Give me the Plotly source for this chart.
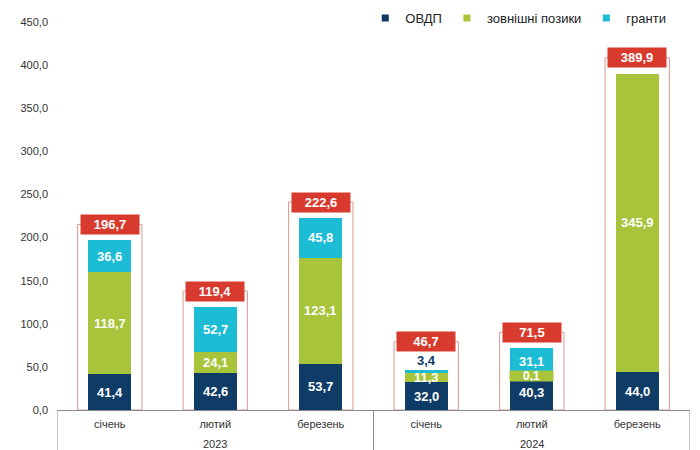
import plotly.graph_objects as go

# ---- data ----
months = ["січень", "лютий", "березень", "січень", "лютий", "березень"]
years = ["2023", "2024"]
ovdp = [41.4, 42.6, 53.7, 32.0, 40.3, 44.0]
loans = [118.7, 24.1, 123.1, 11.3, 0.1, 345.9]
grants = [36.6, 52.7, 45.8, 3.4, 31.1, 0.0]
totals = [196.7, 119.4, 222.6, 46.7, 71.5, 389.9]
y_ticks = [0, 50, 100, 150, 200, 250, 300, 350, 400, 450]
series_names = ["ОВДП", "зовнішні позики", "гранти"]

C_NAVY = "#0f3b67"
C_GREEN = "#a7c43a"
C_CYAN = "#1bbcd4"
C_RED = "#d83b2d"
C_OUT = "#dc9a92"
C_AXIS = "#8a8a8a"
FONT = "Liberation Sans, Arial, sans-serif"


def fmt(v):
    return f"{v:.1f}".replace(".", ",")


x = list(range(len(months)))
BAR_W = 0.41
PX_PER_UNIT = 388 / 450

fig = go.Figure()
for name, vals, col in zip(series_names, [ovdp, loans, grants], [C_NAVY, C_GREEN, C_CYAN]):
    fig.add_trace(go.Bar(x=x, y=vals, name=name, marker=dict(color=col, line=dict(width=0)),
                         width=BAR_W, showlegend=False, hoverinfo="skip"))
    # legend proxy with small square marker
    fig.add_trace(go.Scatter(x=[None], y=[None], mode="markers", name=name,
                             marker=dict(symbol="square", size=7, color=col)))

annotations = []
shapes = []
for i in x:
    base = 0.0
    raise_total = 0
    for vals, col in [(ovdp, C_NAVY), (loans, C_GREEN), (grants, C_CYAN)]:
        v = vals[i]
        if v <= 0:
            continue
        mid = base + v / 2
        if vals is grants and v < 6:
            # too small: label above the bar in dark colour
            annotations.append(dict(x=i, y=base + v, yanchor="bottom", yshift=0, text=f"<b>{fmt(v)}</b>",
                                    showarrow=False, font=dict(size=13, color=C_NAVY, family=FONT)))
            raise_total = 12
        elif v < 1:
            annotations.append(dict(x=i, y=mid, yanchor="middle", yshift=-1, text=f"<b>{fmt(v)}</b>",
                                    showarrow=False, bgcolor=col, width=43, height=10, borderpad=0,
                                    font=dict(size=12, color="white", family=FONT)))
        else:
            annotations.append(dict(x=i, y=mid, yanchor="middle", text=f"<b>{fmt(v)}</b>", showarrow=False,
                                    font=dict(size=13, color="white", family=FONT)))
        base += v
    # total label box
    annotations.append(dict(x=i, y=totals[i], yanchor="middle", yshift=16 + raise_total,
                            text=f"<b>{fmt(totals[i])}</b>", showarrow=False, bgcolor=C_RED,
                            width=56, height=17, borderpad=1,
                            font=dict(size=13, color="white", family=FONT)))
    # outline rectangle around the bar
    shapes.append(dict(type="rect", xref="x", yref="y", x0=i - 0.305, x1=i + 0.305, y0=0,
                       y1=totals[i] + (16 + raise_total) / PX_PER_UNIT,
                       line=dict(color=C_OUT, width=1), fillcolor="rgba(0,0,0,0)", layer="below"))

# year group labels and dividers
n_per = len(months) // len(years)
for k, yr in enumerate(years):
    annotations.append(dict(x=k * n_per + (n_per - 1) / 2, xref="x", y=0, yref="paper", yanchor="middle",
                            yshift=-34, text=yr, showarrow=False,
                            font=dict(size=11, color="#333333", family=FONT)))
for k in range(len(years) + 1):
    xd = k * n_per - 0.5
    shapes.append(dict(type="line", xref="x", yref="paper", x0=xd, x1=xd, y0=0, y1=-0.2,
                       line=dict(color=C_AXIS, width=1)))

fig.update_layout(
    width=700, height=450,
    margin=dict(l=49, r=18, t=14, b=48, autoexpand=False),
    paper_bgcolor="white", plot_bgcolor="white",
    barmode="stack",
    separators=", ",
    font=dict(family=FONT, size=11, color="#333333"),
    annotations=annotations,
    shapes=shapes,
    showlegend=True,
    legend=dict(orientation="h", x=0.487, xanchor="left", y=1.01, yanchor="middle",
                traceorder="normal",
                font=dict(size=13, color="#222222", family=FONT), bgcolor="rgba(0,0,0,0)",
                itemwidth=30, tracegroupgap=0),
    xaxis=dict(range=[-0.5, len(months) - 0.5], tickmode="array", tickvals=x, ticktext=months,
               showline=True, linecolor=C_AXIS, linewidth=1, ticks="", showgrid=False, zeroline=False,
               tickfont=dict(size=11, color="#333333"), ticklabelstandoff=4, fixedrange=True),
    yaxis=dict(range=[0, 450], tickmode="array", tickvals=y_ticks, tickformat=".1f",
               showline=False, showgrid=False, zeroline=False, ticks="",
               tickfont=dict(size=11, color="#333333"), ticklabelstandoff=8, fixedrange=True),
)

fig.write_html("out.html")
